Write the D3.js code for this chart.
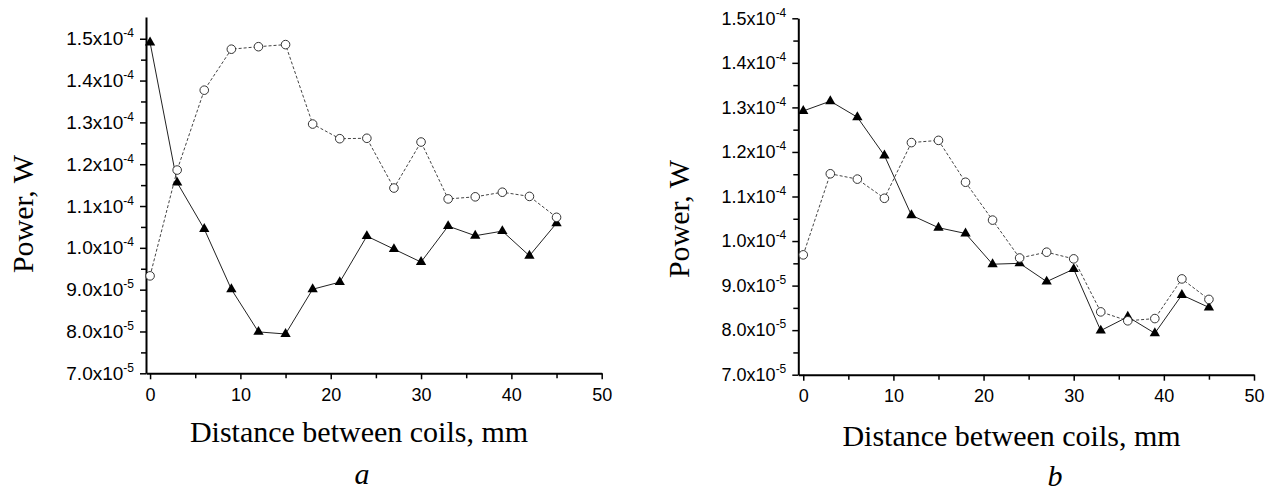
<!DOCTYPE html>
<html>
<head>
<meta charset="utf-8">
<script src="https://cdn.jsdelivr.net/npm/d3@7"></script>
<style>
  html, body { margin: 0; padding: 0; background: #fff; }
  svg { display: block; }
  .tick text { font-family: "Liberation Sans", Arial, sans-serif; fill: #000; }
  .title { font-family: "Liberation Serif", "Times New Roman", serif; fill: #000; }
</style>
</head>
<body>
<svg id="chart" width="1274" height="493"></svg>
<script>
// ---------------- data ----------------
const distances = [0, 3, 6, 9, 12, 15, 18, 21, 24, 27, 30, 33, 36, 39, 42, 45];

// panel a
const aTriangle = [1.491e-4, 1.156e-4, 1.045e-4, 9.01e-5, 7.99e-5, 7.94e-5, 9.01e-5, 9.18e-5,
                   1.028e-4, 9.97e-5, 9.66e-5, 1.052e-4, 1.029e-4, 1.040e-4, 9.81e-5, 1.059e-4];
const aCircle   = [9.33e-5, 1.186e-4, 1.377e-4, 1.475e-4, 1.481e-4, 1.486e-4, 1.296e-4, 1.261e-4,
                   1.262e-4, 1.143e-4, 1.253e-4, 1.117e-4, 1.122e-4, 1.133e-4, 1.123e-4, 1.073e-4];
// panel b
const bTriangle = [1.292e-4, 1.314e-4, 1.278e-4, 1.192e-4, 1.058e-4, 1.030e-4, 1.017e-4, 9.48e-5,
                   9.50e-5, 9.09e-5, 9.37e-5, 7.99e-5, 8.30e-5, 7.93e-5, 8.79e-5, 8.51e-5];
const bCircle   = [9.69e-5, 1.151e-4, 1.139e-4, 1.096e-4, 1.221e-4, 1.226e-4, 1.132e-4, 1.047e-4,
                   9.62e-5, 9.75e-5, 9.60e-5, 8.41e-5, 8.21e-5, 8.26e-5, 9.15e-5, 8.69e-5];

const yMajorTicks = [7e-5, 8e-5, 9e-5, 1.0e-4, 1.1e-4, 1.2e-4, 1.3e-4, 1.4e-4, 1.5e-4];
const yMinorTicks = [7.5e-5, 8.5e-5, 9.5e-5, 1.05e-4, 1.15e-4, 1.25e-4, 1.35e-4, 1.45e-4];
const xMajorTicks = [0, 10, 20, 30, 40, 50];
const xMinorTicks = [5, 15, 25, 35, 45];
const xTitle = "Distance between coils, mm";
const yTitle = "Power, W";
const panelLabels = ["a", "b"];

// ---------------- drawing ----------------
const svg = d3.select("#chart");

function sciParts(v) {
  const exp = v >= 9.99e-5 ? -4 : -5;
  const m = v / Math.pow(10, exp);
  return [m.toFixed(1) + "x10", String(exp)];
}

function drawPanel(p) {
  const x = d3.scaleLinear().domain(p.xDomain).range([p.left, p.right]);
  const y = d3.scaleLinear().domain(p.yDomain).range([p.bottom, p.top]);
  const g = svg.append("g");

  // y axis (major)
  const yAx = g.append("g").attr("transform", `translate(${p.left},0)`)
    .call(d3.axisLeft(y).tickValues(yMajorTicks).tickSize(6).tickSizeOuter(0).tickPadding(6)
      .tickFormat(d => sciParts(d)[0]));
  yAx.selectAll(".tick text").each(function(d) {
    const t = d3.select(this);
    const parts = sciParts(d);
    t.text(null).attr("font-size", p.yFont);
    t.append("tspan").text(parts[0]);
    t.append("tspan").attr("font-size", 12).attr("dy", -8).text(parts[1]);
  });
  // y minor
  g.append("g").attr("transform", `translate(${p.left},0)`)
    .call(d3.axisLeft(y).tickValues(yMinorTicks).tickSize(5).tickSizeOuter(0).tickFormat(""))
    .select(".domain").remove();

  // x axis (major)
  const xAx = g.append("g").attr("transform", `translate(0,${p.bottom})`)
    .call(d3.axisBottom(x).tickValues(xMajorTicks).tickSize(6).tickSizeOuter(0).tickPadding(9)
      .tickFormat(d3.format("d")));
  xAx.selectAll(".tick text").attr("font-size", 18);
  g.append("g").attr("transform", `translate(0,${p.bottom})`)
    .call(d3.axisBottom(x).tickValues(xMinorTicks).tickSize(5).tickSizeOuter(0).tickFormat(""))
    .select(".domain").remove();

  g.selectAll(".domain").attr("stroke", "#000").attr("stroke-width", 2);
  g.selectAll(".tick line").attr("stroke", "#000").attr("stroke-width", 1.5);

  const tri = distances.map((d, i) => [d, p.tri[i]]);
  const cir = distances.map((d, i) => [d, p.cir[i]]);
  const line = d3.line().x(d => x(d[0])).y(d => y(d[1]));

  g.append("path").datum(tri).attr("d", line)
    .attr("fill", "none").attr("stroke", "#222").attr("stroke-width", 1);
  g.append("path").datum(cir).attr("d", line)
    .attr("fill", "none").attr("stroke", "#444").attr("stroke-width", 1)
    .attr("stroke-dasharray", "3,2");

  g.selectAll(".tri").data(tri).join("path")
    .attr("transform", d => `translate(${x(d[0])},${y(d[1])})`)
    .attr("d", d3.symbol(d3.symbolTriangle, 46)())
    .attr("fill", "#000");
  g.selectAll(".cir").data(cir).join("circle")
    .attr("cx", d => x(d[0])).attr("cy", d => y(d[1])).attr("r", 4.3)
    .attr("fill", "#fff").attr("stroke", "#333").attr("stroke-width", 1);

  // titles
  g.append("text").attr("class", "title").attr("font-size", 30)
    .attr("x", p.xTitleX).attr("y", p.xTitleY).attr("text-anchor", "middle").text(xTitle);
  g.append("text").attr("class", "title").attr("font-size", 30)
    .attr("transform", `translate(${p.yTitleX},${p.yTitleY}) rotate(-90)`)
    .attr("text-anchor", "middle").text(yTitle);
  g.append("text").attr("class", "title").attr("font-size", 30).attr("font-style", "italic")
    .attr("x", p.labelX).attr("y", p.labelY).attr("text-anchor", "middle").text(p.label);
}

drawPanel({
  left: 146, right: 601.7, top: 17, bottom: 373.3,
  xDomain: [-0.45, 50], yDomain: [7e-5, 1.552e-4],
  tri: aTriangle, cir: aCircle, yFont: 19,
  xTitleX: 359, xTitleY: 442, yTitleX: 33, yTitleY: 214,
  labelX: 362, labelY: 484, label: panelLabels[0]
});
drawPanel({
  left: 798.3, right: 1254, top: 18.3, bottom: 374.7,
  xDomain: [-0.55, 50], yDomain: [7e-5, 1.5e-4],
  tri: bTriangle, cir: bCircle, yFont: 18,
  xTitleX: 1011.5, xTitleY: 446, yTitleX: 689, yTitleY: 219,
  labelX: 1055, labelY: 486, label: panelLabels[1]
});
</script>
</body>
</html>
